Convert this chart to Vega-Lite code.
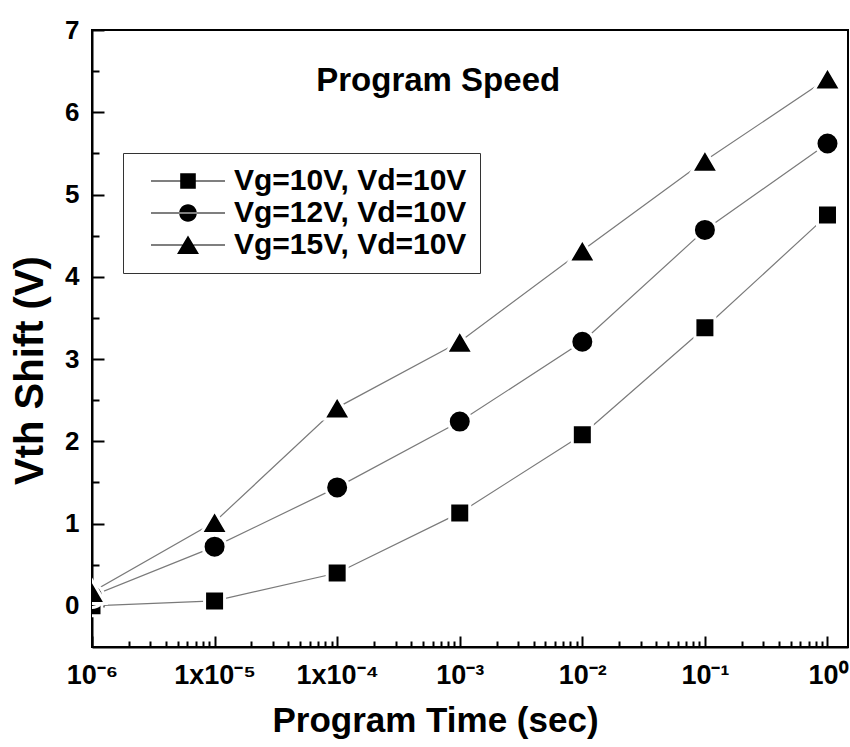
{
  "$schema": "https://vega.github.io/schema/vega-lite/v6.json",
  "width": 756,
  "height": 617,
  "autosize": "none",
  "padding": {"left": 92, "top": 30, "right": 2, "bottom": 100},
  "background": "white",
  "config": {
    "view": {"stroke": "black", "strokeWidth": 2},
    "font": "Liberation Sans",
    "axis": {
      "grid": false,
      "domainColor": "black",
      "domainWidth": 2,
      "tickColor": "black",
      "tickWidth": 2,
      "labelFont": "Liberation Sans",
      "labelFontWeight": "bold",
      "labelColor": "black",
      "titleFont": "Liberation Sans",
      "titleFontWeight": "bold",
      "titleColor": "black"
    }
  },
  "data": {
    "values": [
      {"series": "Vg=10V, Vd=10V", "time": 1e-6, "vth": 0.0},
      {"series": "Vg=10V, Vd=10V", "time": 1e-5, "vth": 0.06},
      {"series": "Vg=10V, Vd=10V", "time": 1e-4, "vth": 0.40},
      {"series": "Vg=10V, Vd=10V", "time": 1e-3, "vth": 1.13},
      {"series": "Vg=10V, Vd=10V", "time": 1e-2, "vth": 2.08},
      {"series": "Vg=10V, Vd=10V", "time": 1e-1, "vth": 3.38},
      {"series": "Vg=10V, Vd=10V", "time": 1, "vth": 4.75},
      {"series": "Vg=12V, Vd=10V", "time": 1e-6, "vth": 0.12},
      {"series": "Vg=12V, Vd=10V", "time": 1e-5, "vth": 0.72},
      {"series": "Vg=12V, Vd=10V", "time": 1e-4, "vth": 1.44},
      {"series": "Vg=12V, Vd=10V", "time": 1e-3, "vth": 2.24},
      {"series": "Vg=12V, Vd=10V", "time": 1e-2, "vth": 3.21},
      {"series": "Vg=12V, Vd=10V", "time": 1e-1, "vth": 4.57},
      {"series": "Vg=12V, Vd=10V", "time": 1, "vth": 5.62},
      {"series": "Vg=15V, Vd=10V", "time": 1e-6, "vth": 0.17},
      {"series": "Vg=15V, Vd=10V", "time": 1e-5, "vth": 1.02},
      {"series": "Vg=15V, Vd=10V", "time": 1e-4, "vth": 2.41},
      {"series": "Vg=15V, Vd=10V", "time": 1e-3, "vth": 3.21},
      {"series": "Vg=15V, Vd=10V", "time": 1e-2, "vth": 4.32},
      {"series": "Vg=15V, Vd=10V", "time": 1e-1, "vth": 5.41},
      {"series": "Vg=15V, Vd=10V", "time": 1, "vth": 6.41}
    ]
  },
  "encoding": {
    "x": {
      "field": "time",
      "type": "quantitative",
      "scale": {"type": "log", "domain": [1e-6, 1.47], "nice": false},
      "axis": {
        "title": "Program Time (sec)",
        "titleFontSize": 35,
        "titlePadding": 10,
        "titleX": 343,
        "labelFontSize": 27,
        "labelPadding": 26,
        "values": [1e-6, 2e-6, 3e-6, 4e-6, 5e-6, 6e-6, 7e-6, 8e-6, 9e-6,
                   1e-5, 2e-5, 3e-5, 4e-5, 5e-5, 6e-5, 7e-5, 8e-5, 9e-5,
                   1e-4, 2e-4, 3e-4, 4e-4, 5e-4, 6e-4, 7e-4, 8e-4, 9e-4,
                   1e-3, 2e-3, 3e-3, 4e-3, 5e-3, 6e-3, 7e-3, 8e-3, 9e-3,
                   1e-2, 2e-2, 3e-2, 4e-2, 5e-2, 6e-2, 7e-2, 8e-2, 9e-2,
                   1e-1, 2e-1, 3e-1, 4e-1, 5e-1, 6e-1, 7e-1, 8e-1, 9e-1, 1],
        "labelExpr": "abs(log(datum.value)/LN10 - round(log(datum.value)/LN10)) < 0.01 ? ['10⁻⁶','1x10⁻⁵','1x10⁻⁴','10⁻³','10⁻²','10⁻¹','10⁰'][round(log(datum.value)/LN10)+6] : ''",
        "tickSize": {"condition": {"test": "abs(log(datum.value)/LN10 - round(log(datum.value)/LN10)) < 0.01", "value": -11}, "value": -6},
        "labelFlush": false,
        "labelOverlap": false
      }
    },
    "y": {
      "field": "vth",
      "type": "quantitative",
      "scale": {"domain": [-0.5, 7], "nice": false, "zero": false},
      "axis": {
        "title": "Vth Shift (V)",
        "titleFontSize": 40,
        "titlePadding": 14,
        "titleY": 340,
        "labelFontSize": 26,
        "labelPadding": 25,
        "values": [0, 0.5, 1, 1.5, 2, 2.5, 3, 3.5, 4, 4.5, 5, 5.5, 6, 6.5, 7],
        "labelExpr": "datum.value % 1 == 0 ? format(datum.value, 'd') : ''",
        "tickSize": {"condition": {"test": "datum.value % 1 == 0", "value": -12}, "value": -7},
        "labelFlush": false,
        "labelOverlap": false
      }
    }
  },
  "layer": [
    {
      "mark": {"type": "line", "color": "#7a7a7a", "strokeWidth": 1.2, "clip": true},
      "encoding": {"detail": {"field": "series"}}
    },
    {
      "mark": {"type": "point", "filled": true, "fill": "black", "stroke": "white", "strokeWidth": 3, "strokeOpacity": 1, "opacity": 1, "size": 100, "clip": true},
      "encoding": {
        "shape": {
          "field": "series",
          "type": "nominal",
          "scale": {"range": ["M-2,-2H2V2H-2Z", "M-2.3,0A2.3,2.3 0 1,0 2.3,0A2.3,2.3 0 1,0 -2.3,0Z", "M0,-2.3L2.7,2.3H-2.7Z"]},
          "legend": null
        }
      }
    },
    {
      "mark": {"type": "point", "filled": true, "color": "black", "opacity": 0, "size": 400},
      "encoding": {
        "shape": {
          "field": "series",
          "type": "nominal",
          "scale": {"range": ["M-3.7,-0.05H3.7V0.05H-3.7ZM-0.78,-0.78H0.78V0.78H-0.78Z", "M-3.7,-0.05H3.7V0.05H-3.7ZM-0.88,0A0.88,0.88 0 1,0 0.88,0A0.88,0.88 0 1,0 -0.88,0Z", "M-3.7,-0.05H3.7V0.05H-3.7ZM0,-0.95L1.1,0.9H-1.1Z"]},
          "legend": {
            "orient": "none",
            "legendX": 31,
            "legendY": 123,
            "title": null,
            "strokeColor": "#333333",
            "padding": 13,
            "rowPadding": 2,
            "labelFont": "Liberation Sans",
            "labelFontWeight": "bold",
            "labelFontSize": 30,
            "labelColor": "black",
            "labelOffset": 31,
            "labelLimit": 500,
            "symbolSize": 400,
            "symbolOffset": 37,
            "symbolOpacity": 1,
            "symbolFillColor": "black",
            "encode": {
              "symbols": {
                "update": {
                  "opacity": {"value": 1},
                  "fill": {"value": "black"},
                  "size": {"value": 400}
                }
              }
            }
          }
        }
      }
    },
    {
      "data": {"values": [{"label": "Program Speed", "time": 0.000667, "vth": 6.38}]},
      "mark": {"type": "text", "font": "Liberation Sans", "fontWeight": "bold", "fontSize": 33, "color": "black", "baseline": "middle", "align": "center"},
      "encoding": {"text": {"field": "label"}}
    }
  ],
  "resolve": {"scale": {"shape": "independent"}}
}
